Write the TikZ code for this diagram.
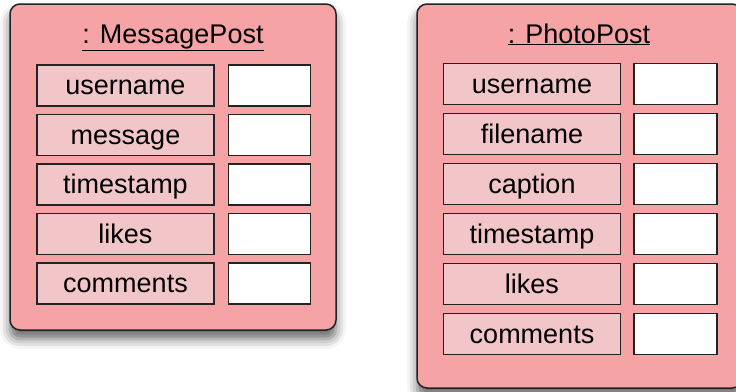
\documentclass[tikz,border=0pt]{standalone}
\usepackage{fontspec}
\setmainfont{Liberation Sans}
\usetikzlibrary{positioning,shadows.blur}
\definecolor{postpink}{RGB}{245,163,165}
\definecolor{fieldpink}{RGB}{242,198,200}
\definecolor{edgegray}{RGB}{35,35,35}
\tikzset{
	object/.style={
		rectangle,
		rounded corners=10pt,
		draw=edgegray,
		line width=1.5pt,
		fill=postpink,
		blur shadow={shadow xshift=0pt,shadow yshift=-9pt,shadow blur radius=10pt,shadow opacity=60}
	},
	field/.style={
		rectangle,
		draw=edgegray,
		line width=1.5pt,
		fill=fieldpink,
		minimum width=177pt,
		minimum height=41pt,
		inner sep=0pt,
		text height=24pt,
		text depth=6pt,
		font=\fontsize{27}{32}\selectfont
	},
	slot/.style={
		rectangle,
		draw=edgegray,
		line width=1.5pt,
		fill=white,
		minimum width=82pt,
		minimum height=41pt,
		inner sep=0pt
	},
	heading/.style={font=\fontsize{27}{32}\selectfont,inner sep=0pt,anchor=base}
}

\begin{document}
\begin{tikzpicture}[x=1pt,y=-1pt]
	\useasboundingbox (0,0) rectangle (736,391);
	\clip (0,0) rectangle (736,391);

	% the two objects
	\node[object,minimum width=326pt,minimum height=326pt] (msg) at (173,167) {};
	\node[object,minimum width=325pt,minimum height=384pt] (photo) at (579.5,196) {};

	\node[heading] (msgtitle) at (173,43) {\underline{: MessagePost}};
	\node[heading] (phototitle) at (579,43) {\underline{: PhotoPost}};

	% fields of MessagePost
	\foreach \name [count=\i from 0] in {username,message,timestamp,likes,comments} {
		\node[field] (msg-\name) at (125.5,{85.5+49.5*\i}) {\name};
		\node[slot,right=13pt of msg-\name] (msg-\name-value) {};
	}

	% fields of PhotoPost
	\foreach \name [count=\i from 0] in {username,filename,caption,timestamp,likes,comments} {
		\node[field] (photo-\name) at (532,{84+50*\i}) {\name};
		\node[slot,right=12pt of photo-\name,minimum width=83pt] (photo-\name-value) {};
	}
\end{tikzpicture}
\end{document}
